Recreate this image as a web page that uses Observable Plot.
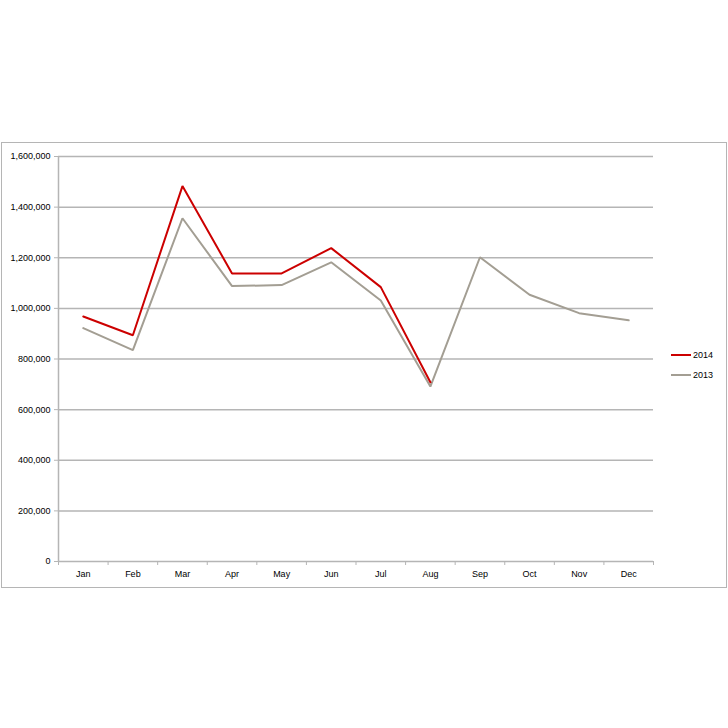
<!DOCTYPE html>
<html>
<head>
<meta charset="utf-8">
<script src="https://cdn.jsdelivr.net/npm/d3@7"></script>
<script src="https://cdn.jsdelivr.net/npm/@observablehq/plot@0.6"></script>
<style>
  body { margin: 0; background: #fff; font-family: "Liberation Sans", Arial, sans-serif; }
  #wrap { position: relative; width: 728px; height: 728px; }
  #frame { position: absolute; left: 1px; top: 142px; width: 724px; height: 444px; border: 1px solid #b5b5b5; pointer-events: none; }
  #legend { position: absolute; left: 671px; top: 345px; font-size: 9px; color: #000; }
  #legend div { display: flex; align-items: center; height: 20px; }
  #legend span.sw { display: inline-block; width: 20px; height: 2px; margin-right: 2px; }
</style>
</head>
<body>
<div id="wrap">
  <div id="chart"></div>
  <div id="frame"></div>
  <div id="legend"></div>
</div>
<script>
const months = ["Jan","Feb","Mar","Apr","May","Jun","Jul","Aug","Sep","Oct","Nov","Dec"];
const values2014 = [968000, 894000, 1483000, 1138000, 1138000, 1238000, 1084000, 708000];
const values2013 = [922000, 835000, 1356000, 1088000, 1092000, 1182000, 1031000, 691000, 1202000, 1054000, 981000, 953000];
const seriesNames = ["2014", "2013"];
const seriesColors = ["#cc0000", "#a39e93"];
const yTicks = [0, 200000, 400000, 600000, 800000, 1000000, 1200000, 1400000, 1600000];

const rows = [];
values2013.forEach((v, i) => rows.push({series: "2013", i, value: v}));
values2014.forEach((v, i) => rows.push({series: "2014", i, value: v}));

const monthIdx = months.map((m, i) => i);
const bounds = d3.range(-0.5, months.length, 1);

const chart = Plot.plot({
  width: 728,
  height: 728,
  marginTop: 156,
  marginBottom: 167,
  marginLeft: 58,
  marginRight: 75,
  style: { fontFamily: "Liberation Sans, Arial, sans-serif", fontSize: "9px", background: "transparent" },
  x: { type: "linear", domain: [-0.5, months.length - 0.5] },
  y: { domain: [0, 1600000] },
  color: { domain: seriesNames, range: seriesColors },
  marks: [
    Plot.gridY(yTicks.filter(d => d > 0), { stroke: "#b5b5b5", strokeOpacity: 1, strokeWidth: 1.5 }),
    Plot.ruleY([0], { stroke: "#b5b5b5", strokeWidth: 1.5 }),
    Plot.ruleX([-0.5], { stroke: "#b5b5b5", strokeWidth: 1.5 }),
    Plot.axisY({ ticks: yTicks, tickFormat: d3.format(","), tickSize: 4, tickPadding: 4, stroke: "#b5b5b5", color: "#000", label: null }),
    Plot.axisX({ ticks: bounds, tickFormat: () => "", tickSize: 4, stroke: "#b5b5b5", label: null }),
    Plot.axisX({ ticks: monthIdx, tickFormat: i => months[i], tickSize: 0, tickPadding: 9, color: "#000", label: null }),
    Plot.line(rows, { x: "i", y: "value", z: "series", stroke: "series", strokeWidth: 2, strokeLinejoin: "miter" })
  ]
});
document.getElementById("chart").appendChild(chart);

const legend = document.getElementById("legend");
seriesNames.forEach((s, k) => {
  const row = document.createElement("div");
  row.innerHTML = `<span class="sw" style="background:${seriesColors[k]}"></span>${s}`;
  legend.appendChild(row);
});
</script>
</body>
</html>
